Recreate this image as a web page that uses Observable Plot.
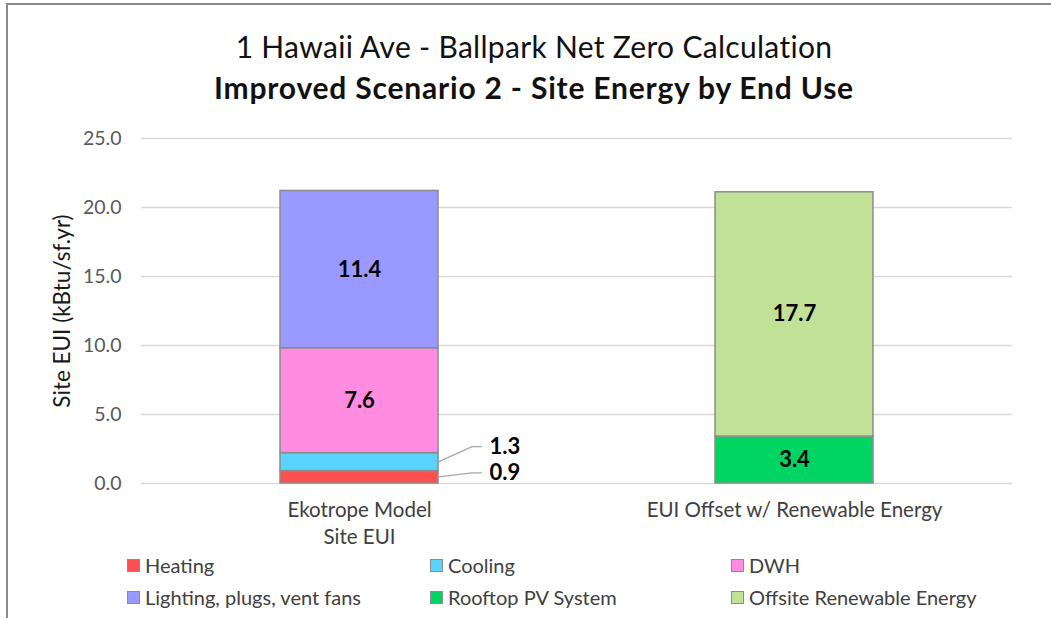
<!DOCTYPE html>
<html><head><meta charset="utf-8">
<script src="https://cdn.jsdelivr.net/npm/d3@7"></script>
<script src="https://cdn.jsdelivr.net/npm/@observablehq/plot@0.6"></script>
<style>
html,body{margin:0;padding:0;background:#fff;}
body{width:1051px;height:618px;position:relative;overflow:hidden;font-family:Lato,"Open Sans",sans-serif;}
#frame{position:absolute;left:6px;top:3px;right:-10px;bottom:-10px;border-top:2px solid #8a8a8a;border-left:2px solid #8a8a8a;}
.title{position:absolute;left:0;width:1068px;text-align:center;color:#111;white-space:nowrap;line-height:34px;}
#t1{top:29px;font-size:30px;letter-spacing:0.3px;}
#t2{top:70px;font-size:30px;font-weight:bold;letter-spacing:0.8px;}
#chart{position:absolute;left:0;top:0;}
.leg{position:absolute;display:flex;align-items:center;font-size:20px;color:#404040;white-space:nowrap;}
.sw{width:13px;height:13px;border:1px solid #8c8c8c;margin-right:5px;box-sizing:border-box;}
</style></head>
<body>
<div id="frame"></div>
<div class="title" id="t1"></div>
<div class="title" id="t2"></div>
<div id="chart"></div>
<div id="legend"></div>
<script>
// ---- data ----
const titleLine1 = "1 Hawaii Ave - Ballpark Net Zero Calculation";
const titleLine2 = "Improved Scenario 2 - Site Energy by End Use";
const yAxisTitle = "Site EUI (kBtu/sf.yr)";
const categories = ["Ekotrope Model\nSite EUI", "EUI Offset w/ Renewable Energy"];
const endUses = ["Heating", "Cooling", "DWH", "Lighting, plugs, vent fans", "Rooftop PV System", "Offsite Renewable Energy"];
const colors = ["#FF5050", "#5BD3FF", "#FF8CE0", "#9999FF", "#00D563", "#C1E197"];
const modelValues = [0.9, 1.3, 7.6, 11.4, 0, 0];
const offsetValues = [0, 0, 0, 0, 3.4, 17.7];
const yTicks = [0, 5, 10, 15, 20, 25];
const outsideLabels = ["Heating", "Cooling"];

// ---- build rows ----
const rows = [];
endUses.forEach((u, i) => {
  if (modelValues[i]) rows.push({category: categories[0], endUse: u, value: modelValues[i]});
  if (offsetValues[i]) rows.push({category: categories[1], endUse: u, value: offsetValues[i]});
});
const fmt = v => v.toFixed(1);

document.getElementById("t1").textContent = titleLine1;
document.getElementById("t2").textContent = titleLine2;

// leader lines for the small outside-labelled segments
const leaderOffsets = {Heating: -4, Cooling: -15};
function leaders(index, scales, values, dims) {
  const sx = scales.x, sy = scales.y;
  const bw = typeof sx.bandwidth === "function" ? sx.bandwidth() : (sx.bandwidth || 0);
  const g = d3.create("svg:g").attr("fill", "none").attr("stroke", "#a6a6a6").attr("stroke-width", 1.3);
  let cum = 0;
  endUses.forEach((u, i) => {
    const v = modelValues[i];
    if (!v) return;
    const mid = cum + v / 2;
    cum += v;
    if (!outsideLabels.includes(u)) return;
    const xr = sx(categories[0]) + bw;
    const y0 = sy(mid);
    const y1 = y0 + leaderOffsets[u];
    g.append("path").attr("d", `M${xr + 1},${y0}L${xr + 34},${y1}L${xr + 44},${y1}`);
  });
  return g.node();
}

const bandOpts = {x: "category", y: "value"};
const labelStyle = {fontSize: 22, fontWeight: "bold", fill: "#000"};
const chart = Plot.plot({
  width: 1051, height: 618,
  marginTop: 138, marginBottom: 135, marginLeft: 141, marginRight: 39,
  style: {fontFamily: "Lato, 'Open Sans', sans-serif", background: "transparent", overflow: "visible"},
  x: {domain: categories, paddingInner: 0.637, paddingOuter: 0.3185, axis: null},
  y: {domain: [0, 25], axis: null},
  color: {domain: endUses, range: colors},
  marks: [
    Plot.gridY(yTicks, {stroke: "#d9d9d9", strokeOpacity: 1, strokeWidth: 1.3}),
    Plot.axisY(yTicks, {tickSize: 0, tickPadding: 20, tickFormat: fmt, fontSize: 19.5, fill: "#595959", label: null}),
    Plot.text([yAxisTitle], {frameAnchor: "left", rotate: -90, dx: -79, textAnchor: "middle", fontSize: 22.5, fill: "#1a1a1a", text: d => d}),
    Plot.axisX(categories, {tickSize: 0, tickPadding: 15, fontSize: 20.5, fill: "#404040", lineHeight: 1.3, label: null}),
    Plot.barY(rows, Plot.stackY({...bandOpts, fill: "endUse", stroke: "#8c8c8c", strokeWidth: 1.5})),
    Plot.text(rows, Plot.stackY({...bandOpts, text: d => outsideLabels.includes(d.endUse) ? null : fmt(d.value), ...labelStyle})),
    Plot.text(rows, Plot.stackY({...bandOpts, text: d => d.endUse === "Heating" ? fmt(d.value) : null, dx: 130, dy: leaderOffsets.Heating, textAnchor: "start", ...labelStyle})),
    Plot.text(rows, Plot.stackY({...bandOpts, text: d => d.endUse === "Cooling" ? fmt(d.value) : null, dx: 130, dy: leaderOffsets.Cooling, textAnchor: "start", ...labelStyle})),
    leaders
  ]
});
document.getElementById("chart").appendChild(chart);

// legend (3 columns x 2 rows)
const legX = [127, 430, 731];
const legY = [565, 597];
const legend = document.getElementById("legend");
endUses.forEach((u, i) => {
  const div = document.createElement("div");
  div.className = "leg";
  div.style.left = legX[i % 3] + "px";
  div.style.top = (legY[Math.floor(i / 3)] - 12) + "px";
  div.style.height = "24px";
  const sw = document.createElement("span");
  sw.className = "sw";
  sw.style.background = colors[i];
  div.appendChild(sw);
  div.appendChild(document.createTextNode(u));
  legend.appendChild(div);
});
</script>
</body></html>
